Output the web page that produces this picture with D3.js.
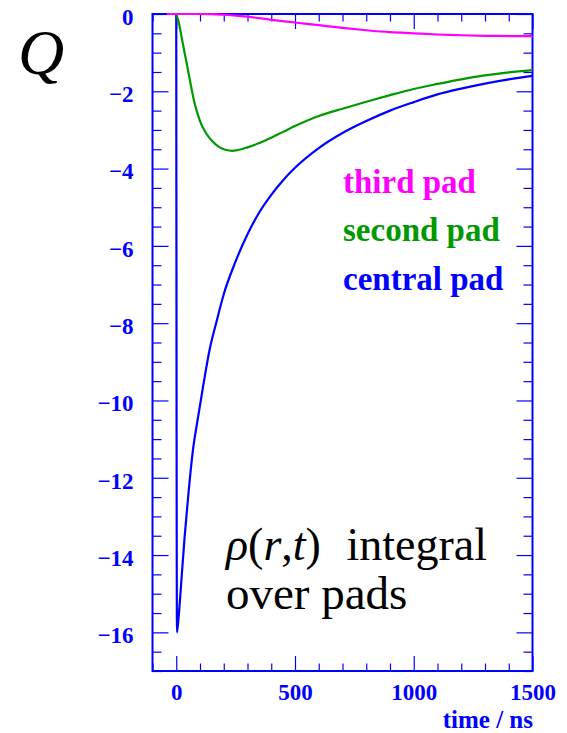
<!DOCTYPE html>
<html>
<head>
<meta charset="utf-8">
<script src="https://cdn.jsdelivr.net/npm/d3@7"></script>
<style>
  html, body { margin: 0; padding: 0; background: #fff; }
  svg { display: block; }
  .serif { font-family: "Liberation Serif", serif; }
</style>
</head>
<body>
<svg id="chart" width="567" height="733"></svg>
<script>
// Induced charge on the pads versus time (ns)
const centralTime = [0, 3, 10, 20, 35, 50, 70, 90, 110, 140, 170, 200, 250, 300, 350, 400, 450, 500, 600, 700, 800, 900, 1000, 1100, 1200, 1300, 1400, 1500];
const centralQ    = [0, -16.0, -15.6, -14.8, -13.55, -12.5, -11.3, -10.5, -9.75, -8.7, -7.95, -7.25, -6.4, -5.7, -5.13, -4.68, -4.3, -3.98, -3.47, -3.08, -2.77, -2.5, -2.28, -2.08, -1.93, -1.8, -1.69, -1.6];

const secondTime = [0, 10, 25, 50, 75, 100, 125, 150, 180, 210, 235, 260, 300, 350, 400, 450, 500, 600, 700, 800, 900, 1000, 1100, 1200, 1300, 1400, 1500];
const secondQ    = [0, -0.2, -0.68, -1.47, -2.25, -2.77, -3.08, -3.28, -3.44, -3.52, -3.54, -3.52, -3.45, -3.34, -3.2, -3.05, -2.9, -2.64, -2.45, -2.27, -2.1, -1.94, -1.81, -1.69, -1.59, -1.51, -1.45];

const thirdTime = [-40, 0, 100, 150, 200, 250, 300, 400, 500, 600, 700, 800, 900, 1000, 1100, 1200, 1300, 1400, 1500];
const thirdQ    = [0, 0, 0, -0.005, -0.02, -0.04, -0.07, -0.15, -0.22, -0.29, -0.36, -0.42, -0.47, -0.5, -0.53, -0.55, -0.565, -0.57, -0.575];

const xMajorTicks = [0, 500, 1000, 1500];
const yMajorTicks = [0, -2, -4, -6, -8, -10, -12, -14, -16];

const legendNames = ["third pad", "second pad", "central pad"];
const seriesColors = ["#ff00ff", "#009900", "#0000ff"];

const svg = d3.select("#chart");
const axisColor = "#0000ff";

const x = d3.scaleLinear().domain([-100, 1500]).range([152.5, 532.5]);
const y = d3.scaleLinear().domain([-17, 0]).range([671, 14]);

const xMinor = d3.range(-100, 1501, 100).filter(v => v % 500 !== 0);
const yMinor = d3.range(-17, 0.01, 0.5).filter(v => Math.abs(v % 2) > 1e-9);

function styleAxis(g) {
  g.attr("font-family", null).attr("font-size", null);
  g.select(".domain").remove();
  g.selectAll("line").attr("stroke", axisColor).attr("stroke-width", 1.2);
}
function styleLabels(g) {
  g.selectAll("text")
    .attr("class", "serif")
    .attr("fill", axisColor)
    .style("font-weight", "bold").style("font-size", "23px");
}

// bottom axis: major with labels, minor ticks without
svg.append("g").attr("transform", `translate(0,${y.range()[0]})`)
  .call(d3.axisBottom(x).tickValues(xMajorTicks).tickSizeInner(-15).tickSizeOuter(0).tickPadding(12).tickFormat(d3.format("d")))
  .call(styleAxis)
  .call(styleLabels)
  .call(g => g.selectAll("text").attr("dy", null).attr("y", 29));
svg.append("g").attr("transform", `translate(0,${y.range()[0]})`)
  .call(d3.axisBottom(x).tickValues(xMinor).tickSizeInner(-7.5).tickSizeOuter(0).tickFormat(""))
  .call(styleAxis);

// top axis mirror ticks
svg.append("g").attr("transform", `translate(0,${y.range()[1]})`)
  .call(d3.axisTop(x).tickValues(xMajorTicks).tickSizeInner(-15).tickSizeOuter(0).tickFormat(""))
  .call(styleAxis);
svg.append("g").attr("transform", `translate(0,${y.range()[1]})`)
  .call(d3.axisTop(x).tickValues(xMinor).tickSizeInner(-7.5).tickSizeOuter(0).tickFormat(""))
  .call(styleAxis);

// left axis
svg.append("g").attr("transform", `translate(${x.range()[0]},0)`)
  .call(d3.axisLeft(y).tickValues(yMajorTicks).tickSizeInner(-16).tickSizeOuter(0).tickPadding(19).tickFormat(d3.format("d")))
  .call(styleAxis)
  .call(styleLabels)
  .call(g => g.selectAll("text").attr("dy", "0.45em"));
svg.append("g").attr("transform", `translate(${x.range()[0]},0)`)
  .call(d3.axisLeft(y).tickValues(yMinor).tickSizeInner(-9).tickSizeOuter(0).tickFormat(""))
  .call(styleAxis);

// right axis mirror ticks
svg.append("g").attr("transform", `translate(${x.range()[1]},0)`)
  .call(d3.axisRight(y).tickValues(yMajorTicks).tickSizeInner(-16).tickSizeOuter(0).tickFormat(""))
  .call(styleAxis);
svg.append("g").attr("transform", `translate(${x.range()[1]},0)`)
  .call(d3.axisRight(y).tickValues(yMinor).tickSizeInner(-9).tickSizeOuter(0).tickFormat(""))
  .call(styleAxis);

// frame
svg.append("rect")
  .attr("x", x.range()[0]).attr("y", y.range()[1])
  .attr("width", x.range()[1] - x.range()[0]).attr("height", y.range()[0] - y.range()[1])
  .attr("fill", "none").attr("stroke", axisColor).attr("stroke-width", 2);

// curves
const line = d3.line().x(d => x(d[0])).y(d => y(d[1])).curve(d3.curveMonotoneX);
const series = [
  { t: centralTime, q: centralQ, color: seriesColors[2] },
  { t: secondTime, q: secondQ, color: seriesColors[1] },
  { t: thirdTime, q: thirdQ, color: seriesColors[0] }
];
series.forEach(s => {
  svg.append("path")
    .datum(d3.zip(s.t, s.q))
    .attr("d", line)
    .attr("fill", "none")
    .attr("stroke", s.color)
    .attr("stroke-width", 2.2)
    .attr("stroke-linejoin", "round");
});

// legend
const legendY = [193, 241, 290];
legendNames.forEach((name, i) => {
  svg.append("text")
    .attr("class", "serif")
    .attr("x", 343).attr("y", legendY[i])
    .attr("fill", seriesColors[i])
    .style("font-weight", "bold").style("font-size", "33px")
    .text(name);
});

// axis titles
svg.append("text")
  .attr("class", "serif")
  .attr("x", 533).attr("y", 728).attr("text-anchor", "end")
  .attr("fill", axisColor)
  .style("font-weight", "bold").style("font-size", "25px")
  .text("time / ns");

svg.append("text")
  .attr("class", "serif")
  .attr("x", 18).attr("y", 74)
  .attr("fill", "#000")
  .style("font-style", "italic").style("font-size", "64px")
  .text("Q");

// annotation
const note = svg.append("g").attr("fill", "#000");
const l1 = note.append("text").attr("class", "serif").attr("x", 226).attr("y", 560).style("font-size", "46px");
l1.append("tspan").style("font-style", "italic").text("ρ");
l1.append("tspan").text("(");
l1.append("tspan").style("font-style", "italic").text("r");
l1.append("tspan").text(",");
l1.append("tspan").style("font-style", "italic").text("t");
l1.append("tspan").text(")");
l1.append("tspan").attr("dx", 14).text(" integral");
note.append("text").attr("class", "serif").attr("x", 226).attr("y", 609).style("font-size", "47px").text("over pads");
</script>
</body>
</html>
